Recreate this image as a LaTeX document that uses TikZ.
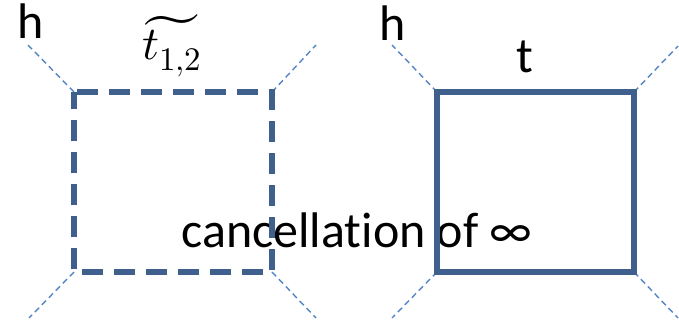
\documentclass[tikz,border=0pt]{standalone}
\usepackage{fontspec}
\usepackage{unicode-math}
\setmainfont{Carlito}[Ligatures=NoCommon]
\setmathfont{Latin Modern Math}
\definecolor{boxblue}{HTML}{3F5F8C}
\definecolor{legblue}{HTML}{5585C5}
\tikzset{
  boxline/.style={boxblue, line width=5.5pt},
  leg/.style={legblue, line width=1.4pt, dash pattern=on 6pt off 4pt},
  lbl/.style={font=\fontsize{50}{55}\selectfont, inner sep=0pt, anchor=base}
}
\begin{document}
\begin{tikzpicture}[x=1pt, y=-1pt]
    \useasboundingbox (0,0) rectangle (679,324);

    % Ecken der Kästen
    \coordinate (L1) at (74,92);   \coordinate (L2) at (272,92);
    \coordinate (L3) at (272,272); \coordinate (L4) at (74,272);
    \coordinate (R1) at (437,92);  \coordinate (R2) at (634,92);
    \coordinate (R3) at (634,272); \coordinate (R4) at (437,272);

    % Enden der äußeren Linien
    \coordinate (eL1) at (28,45);  \coordinate (eL2) at (316,45);
    \coordinate (eL3) at (316,318);\coordinate (eL4) at (29,318);
    \coordinate (eR1) at (392,45); \coordinate (eR2) at (678,46);
    \coordinate (eR3) at (678,318);\coordinate (eR4) at (392,318);

    % Beschriftungen
    \node[lbl] (hL) at (31,38) {h};
    \node[lbl] (hR) at (393,40) {h};
    \node[lbl] (tR) at (525,72) {t};
    \node[inner sep=0pt, anchor=base] (tL) at (172,59)
        {\fontsize{47}{52}\selectfont$\widetilde{t_{1,2}}$};
    \node[lbl] (canc) at (357,247) {cancellation of ∞};

    % äußere Linien
    \foreach \c in {L1,L2,L3,L4,R1,R2,R3,R4}
        \draw[leg] (\c) -- (e\c);

    % Kästen
    \draw[boxline, dash pattern=on 21pt off 11pt, dash phase=-3pt]
        (L1) -- (L2) -- (L3) -- (L4) -- cycle;
    \draw[boxline] (R1) -- (R2) -- (R3) -- (R4) -- cycle;
\end{tikzpicture}
\end{document}
